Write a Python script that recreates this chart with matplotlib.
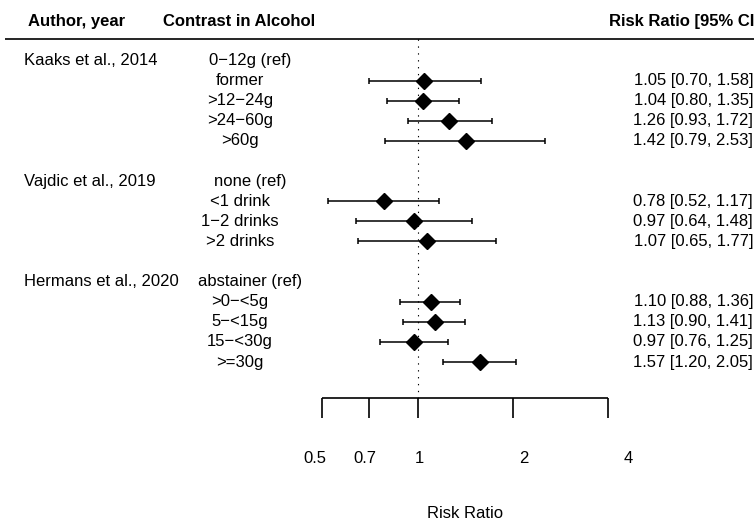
import numpy as np
import matplotlib.pyplot as plt

plt.rcParams['font.family'] = ['Liberation Sans', 'DejaVu Sans']
plt.rcParams['font.size'] = 12

# study data
authors = ["Kaaks et al., 2014", "Vajdic et al., 2019", "Hermans et al., 2020"]
ref_labels = ["0\u221212g (ref)", "none (ref)", "abstainer (ref)"]

kaaks_labels = ["former", ">12\u221224g", ">24\u221260g", ">60g"]
kaaks_rr = [1.05, 1.04, 1.26, 1.42]
kaaks_lo = [0.70, 0.80, 0.93, 0.79]
kaaks_hi = [1.58, 1.35, 1.72, 2.53]

vajdic_labels = ["<1 drink", "1\u22122 drinks", ">2 drinks"]
vajdic_rr = [0.78, 0.97, 1.07]
vajdic_lo = [0.52, 0.64, 0.65]
vajdic_hi = [1.17, 1.48, 1.77]

hermans_labels = [">0\u2212<5g", "5\u2212<15g", "15\u2212<30g", ">=30g"]
hermans_rr = [1.10, 1.13, 0.97, 1.57]
hermans_lo = [0.88, 0.90, 0.76, 1.20]
hermans_hi = [1.36, 1.41, 1.25, 2.05]

axis_ticks = [0.5, 0.7, 1, 2, 4]
axis_ticklabels = ["0.5", "0.7", "1", "2", "4"]


# pixel -> data helpers (layout only)
def px2x(px):
    return 2 ** ((px - 417.7) / 95.3)


def py2y(py):
    return (py - 60.5) / 20.1


fig = plt.figure(figsize=(7.54, 5.29), dpi=100)
ax = fig.add_axes([0, 0, 1, 1])
ax.set_xscale('log', base=2)
ax.set_xlim(px2x(0), px2x(754))
ax.set_ylim(py2y(529), py2y(0))
ax.axis('off')

# header
ax.text(px2x(28), py2y(21), "Author, year", ha='left', va='center', fontweight='bold')
ax.text(px2x(163), py2y(21), "Contrast in Alcohol", ha='left', va='center', fontweight='bold')
ax.text(px2x(760), py2y(21), "Risk Ratio [95% CI]", ha='right', va='center', fontweight='bold')
ax.hlines(py2y(39), px2x(5), px2x(754), color='black', lw=1.2)

studies = [
    (authors[0], ref_labels[0], kaaks_labels, kaaks_rr, kaaks_lo, kaaks_hi),
    (authors[1], ref_labels[1], vajdic_labels, vajdic_rr, vajdic_lo, vajdic_hi),
    (authors[2], ref_labels[2], hermans_labels, hermans_rr, hermans_lo, hermans_hi),
]

row = 0
for author, ref, labels, rr, lo, hi in studies:
    rr = np.array(rr)
    lo = np.array(lo)
    hi = np.array(hi)
    ax.text(px2x(24), row, author, ha='left', va='center')
    ax.text(px2x(250), row, ref, ha='center', va='center')
    rows = row + 1 + np.arange(len(labels))
    ax.errorbar(rr, rows, xerr=[rr - lo, hi - rr], fmt='D', color='black',
                ms=8.5, elinewidth=1.1, capsize=2, capthick=1.1)
    for r, lab, v, l, h in zip(rows, labels, rr, lo, hi):
        ax.text(px2x(240), r, lab, ha='center', va='center')
        ax.text(px2x(753), r, f"{v:.2f} [{l:.2f}, {h:.2f}]", ha='right', va='center')
    row = rows[-1] + 2

# reference line at 1
ax.vlines(1, py2y(39), py2y(398), color='black', lw=0.8, linestyle=(0, (1.2, 5)))

# x axis
ax.hlines(py2y(398), axis_ticks[0], axis_ticks[-1], color='black', lw=1.2)
ax.vlines(axis_ticks, py2y(398), py2y(418), color='black', lw=1.2)
for t, lab in zip(axis_ticks, axis_ticklabels):
    ax.text(2 ** (0.0147 + 1.096 * np.log2(t)), py2y(458), lab, ha='center', va='center')
ax.text(np.sqrt(axis_ticks[0] * axis_ticks[-1]), py2y(513), "Risk Ratio", ha='center', va='center')

plt.savefig('out.png', dpi=100)
